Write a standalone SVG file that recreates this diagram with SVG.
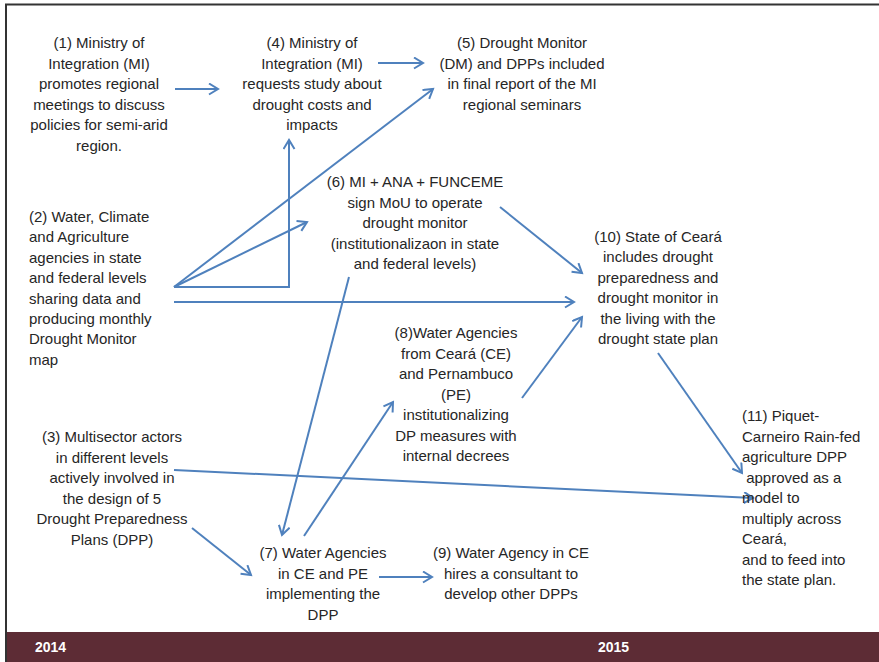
<svg xmlns="http://www.w3.org/2000/svg" width="879" height="662" viewBox="0 0 879 662">
<style>
.t{font-family:"Liberation Sans",Arial,sans-serif;font-size:15px;fill:#262626}
.c{text-anchor:middle}
.yr{font-family:"Liberation Sans",Arial,sans-serif;font-size:14px;font-weight:bold;fill:#ffffff}
.ln{fill:none;stroke:#4F81BD;stroke-width:2}
.ar{marker-end:url(#ah)}
</style>
<defs>
<marker id="ah" markerUnits="userSpaceOnUse" markerWidth="14" markerHeight="14" refX="10" refY="6" orient="auto">
<path d="M1,0.5 L10,6 L1,11.5" fill="none" stroke="#4F81BD" stroke-width="2"/>
</marker>
</defs>
<rect x="0" y="0" width="879" height="662" fill="#ffffff"/>
<g id="frame">
<line x1="5" y1="4.5" x2="879" y2="4.5" stroke="#333" stroke-width="2"/>
<line x1="6" y1="4" x2="6" y2="662" stroke="#333" stroke-width="2"/>
<rect x="7" y="632" width="872" height="30" fill="#5D2C35"/>
<text class="yr" x="35" y="652">2014</text>
<text class="yr" x="598" y="652">2015</text>
</g>
<g id="connectors">
<line class="ln ar" x1="175" y1="89" x2="218" y2="89"/>
<line class="ln ar" x1="378" y1="63" x2="423" y2="63"/>
<line class="ln ar" x1="174" y1="287" x2="433" y2="89"/>
<polyline class="ln ar" points="174,287 289,287 289,140"/>
<line class="ln ar" x1="174" y1="287" x2="307" y2="222"/>
<line class="ln ar" x1="174" y1="302" x2="574" y2="302"/>
<line class="ln ar" x1="500" y1="207" x2="582" y2="273"/>
<line class="ln ar" x1="349" y1="277" x2="282" y2="535"/>
<line class="ln ar" x1="304" y1="536" x2="393" y2="402"/>
<line class="ln ar" x1="522" y1="398" x2="582" y2="317"/>
<line class="ln ar" x1="192" y1="528" x2="251" y2="575"/>
<line class="ln ar" x1="174" y1="470" x2="753" y2="498"/>
<line class="ln ar" x1="379" y1="577" x2="432" y2="577"/>
<line class="ln ar" x1="658" y1="353" x2="742" y2="473"/>
</g>
<g id="n1"><text class="t c" x="99" y="48"><tspan x="99">(1) Ministry of</tspan><tspan x="99" dy="20.6">Integration (MI)</tspan><tspan x="99" dy="20.6">promotes regional</tspan><tspan x="99" dy="20.6">meetings to discuss</tspan><tspan x="99" dy="20.6">policies for semi-arid</tspan><tspan x="99" dy="20.6">region.</tspan></text></g>
<g id="n4"><text class="t c" x="312" y="48"><tspan x="312">(4) Ministry of</tspan><tspan x="312" dy="20.6">Integration (MI)</tspan><tspan x="312" dy="20.6">requests study about</tspan><tspan x="312" dy="20.6">drought costs and</tspan><tspan x="312" dy="20.6">impacts</tspan></text></g>
<g id="n5"><text class="t c" x="522" y="48"><tspan x="522">(5) Drought Monitor</tspan><tspan x="522" dy="20.6">(DM) and DPPs included</tspan><tspan x="522" dy="20.6">in final report of the MI</tspan><tspan x="522" dy="20.6">regional seminars</tspan></text></g>
<g id="n6"><text class="t c" x="415" y="187"><tspan x="415">(6) MI + ANA + FUNCEME</tspan><tspan x="415" dy="20.5">sign MoU to operate</tspan><tspan x="415" dy="20.5">drought monitor</tspan><tspan x="415" dy="20.5">(institutionalizaon in state</tspan><tspan x="415" dy="20.5">and federal levels)</tspan></text></g>
<g id="n2"><text class="t" x="29" y="222"><tspan x="29">(2) Water, Climate</tspan><tspan x="29" dy="20.4">and Agriculture</tspan><tspan x="29" dy="20.4">agencies in state</tspan><tspan x="29" dy="20.4">and federal levels</tspan><tspan x="29" dy="20.4">sharing data and</tspan><tspan x="29" dy="20.4">producing monthly</tspan><tspan x="29" dy="20.4">Drought Monitor</tspan><tspan x="29" dy="20.4">map</tspan></text></g>
<g id="n10"><text class="t c" x="658" y="242"><tspan x="658">(10) State of Ceará</tspan><tspan x="658" dy="20.4">includes drought</tspan><tspan x="658" dy="20.4">preparedness and</tspan><tspan x="658" dy="20.4">drought monitor in</tspan><tspan x="658" dy="20.4">the living with the</tspan><tspan x="658" dy="20.4">drought state plan</tspan></text></g>
<g id="n3"><text class="t c" x="112" y="442"><tspan x="112">(3) Multisector actors</tspan><tspan x="112" dy="20.5">in different levels</tspan><tspan x="112" dy="20.5">actively involved in</tspan><tspan x="112" dy="20.5">the design of 5</tspan><tspan x="112" dy="20.5">Drought Preparedness</tspan><tspan x="112" dy="20.5">Plans (DPP)</tspan></text></g>
<g id="n8"><text class="t c" x="456" y="338"><tspan x="456">(8)Water Agencies</tspan><tspan x="456" dy="20.5">from Ceará (CE)</tspan><tspan x="456" dy="20.5">and Pernambuco</tspan><tspan x="456" dy="20.5">(PE)</tspan><tspan x="456" dy="20.5">institutionalizing</tspan><tspan x="456" dy="20.5">DP measures with</tspan><tspan x="456" dy="20.5">internal decrees</tspan></text></g>
<g id="n7"><text class="t c" x="323" y="558"><tspan x="323">(7) Water Agencies</tspan><tspan x="323" dy="20.6">in CE and PE</tspan><tspan x="323" dy="20.6">implementing the</tspan><tspan x="323" dy="20.6">DPP</tspan></text></g>
<g id="n9"><text class="t c" x="511" y="558"><tspan x="511">(9) Water Agency in CE</tspan><tspan x="511" dy="20.6">hires a consultant to</tspan><tspan x="511" dy="20.6">develop other DPPs</tspan></text></g>
<g id="n11"><text class="t" x="742" y="421" xml:space="preserve"><tspan x="742">(11) Piquet-</tspan><tspan x="742" dy="20.5">Carneiro Rain-fed</tspan><tspan x="742" dy="20.5">agriculture DPP</tspan><tspan x="742" dy="20.5"> approved as a</tspan><tspan x="742" dy="20.5">model to</tspan><tspan x="742" dy="20.5">multiply across</tspan><tspan x="742" dy="20.5">Ceará,</tspan><tspan x="742" dy="20.5">and to feed into</tspan><tspan x="742" dy="20.5">the state plan.</tspan></text></g>
</svg>
